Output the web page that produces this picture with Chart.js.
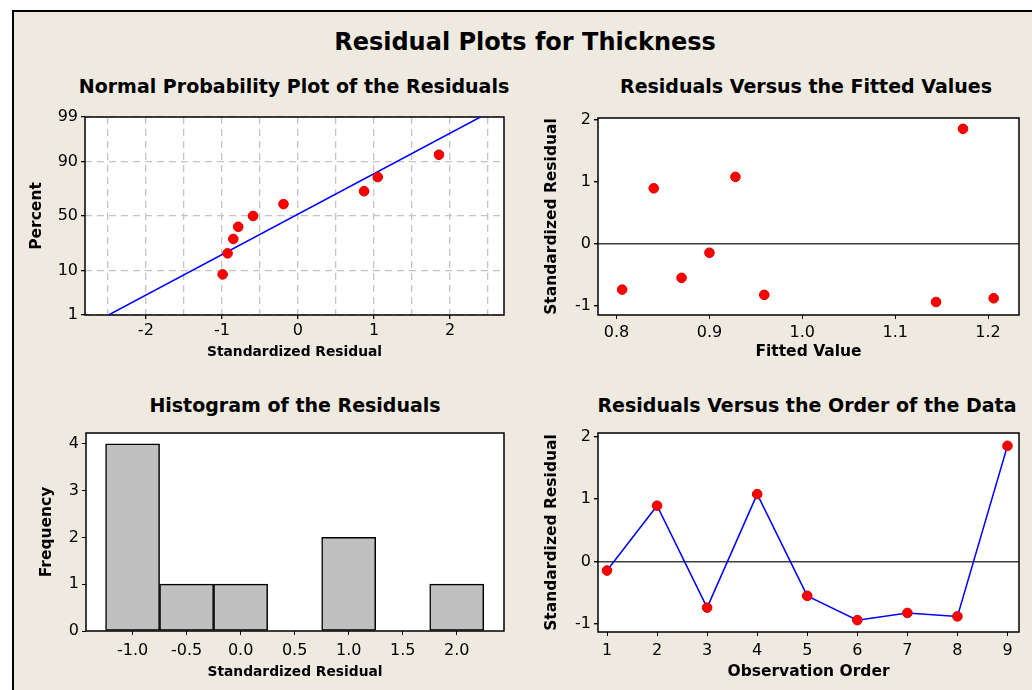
<!DOCTYPE html>
<html>
<head>
<meta charset="utf-8">
<title>Residual Plots for Thickness</title>
<script src="https://cdn.jsdelivr.net/npm/chart.js@4/dist/chart.umd.min.js"></script>
<style>
  body { margin:0; width:1032px; height:690px; overflow:hidden; position:relative; background:#fff; font-family:'DejaVu Sans', sans-serif; }
  #frame { position:absolute; left:12px; top:10px; width:1100px; height:800px; background:#eeeae0; border:2px solid #000; box-sizing:border-box; }
  .t { position:absolute; font-weight:bold; color:#000; white-space:nowrap; transform:translateX(-50%); }
  #main { left:525px; top:26px; font-size:24px; line-height:32px; }
  .sub { font-size:19px; line-height:24px; }
  canvas { position:absolute; }
</style>
</head>
<body>
<div id="frame"></div>
<div class="t" id="main">Residual Plots for Thickness</div>
<div class="t sub" style="left:294px;top:74px">Normal Probability Plot of the Residuals</div>
<div class="t sub" style="left:806px;top:74px">Residuals Versus the Fitted Values</div>
<div class="t sub" style="left:295px;top:393px">Histogram of the Residuals</div>
<div class="t sub" style="left:807px;top:393px">Residuals Versus the Order of the Data</div>

<canvas id="probChart" width="489" height="265" style="left:25px;top:100px"></canvas>
<canvas id="fitChart" width="492" height="265" style="left:540px;top:100px"></canvas>
<canvas id="histChart" width="479" height="270" style="left:35px;top:415px"></canvas>
<canvas id="orderChart" width="492" height="270" style="left:540px;top:415px"></canvas>

<script>
// normal probability plot (sorted residuals vs percent)
const probResid = [-0.99, -0.925, -0.85, -0.785, -0.59, -0.19, 0.87, 1.05, 1.855];
const probPct = [8.5, 19, 29.5, 40, 50, 61, 72, 82, 92.5];
const probTicks = [1, 10, 50, 90, 99];
const fitLineX = [-2.49, 2.40];
const fitLinePct = [1, 99];

// residuals by observation
const obsOrder = [1, 2, 3, 4, 5, 6, 7, 8, 9];
const residuals = [-0.145, 0.895, -0.74, 1.08, -0.55, -0.94, -0.825, -0.88, 1.855];
const fittedVals = [0.900, 0.840, 0.806, 0.928, 0.870, 1.144, 0.959, 1.206, 1.173];

// histogram
const binMids = [-1.0, -0.5, 0.0, 0.5, 1.0, 1.5, 2.0];
const binCounts = [4, 1, 1, 0, 2, 0, 1];

Chart.defaults.font.family = "'DejaVu Sans', sans-serif";
Chart.defaults.font.size = 16;
Chart.defaults.color = '#000';
Chart.defaults.animation = false;
Chart.defaults.plugins.legend.display = false;
Chart.defaults.plugins.tooltip.enabled = false;

// inverse normal cdf (Acklam), used for the probability axis
function probit(p) {
  const a = [-39.69683028665376, 220.9460984245205, -275.9285104469687, 138.3577518672690, -30.66479806614716, 2.506628277459239];
  const b = [-54.47609879822406, 161.5858368580409, -155.6989798598866, 66.80131188771972, -13.28068155288572];
  const c = [-0.007784894002430293, -0.3223964580411365, -2.400758277161838, -2.549732539343734, 4.374664141464968, 2.938163982698783];
  const d = [0.007784695709041462, 0.3224671290700398, 2.445134137142996, 3.754408661907416];
  const lo = 0.02425, hi = 1 - lo;
  let q, r;
  if (p < lo) {
    q = Math.sqrt(-2 * Math.log(p));
    return (((((c[0]*q+c[1])*q+c[2])*q+c[3])*q+c[4])*q+c[5]) / ((((d[0]*q+d[1])*q+d[2])*q+d[3])*q+1);
  }
  if (p > hi) {
    q = Math.sqrt(-2 * Math.log(1 - p));
    return -(((((c[0]*q+c[1])*q+c[2])*q+c[3])*q+c[4])*q+c[5]) / ((((d[0]*q+d[1])*q+d[2])*q+d[3])*q+1);
  }
  q = p - 0.5; r = q * q;
  return (((((a[0]*r+a[1])*r+a[2])*r+a[3])*r+a[4])*r+a[5])*q / (((((b[0]*r+b[1])*r+b[2])*r+b[3])*r+b[4])*r+1);
}

// white plot area + black box round it
const boxPlugin = {
  id: 'box',
  beforeDraw(c) {
    const a = c.chartArea;
    c.ctx.save();
    c.ctx.fillStyle = '#fff';
    c.ctx.fillRect(a.left, a.top, a.width, a.height);
    c.ctx.restore();
  },
  beforeDatasetsDraw(c) {
    const a = c.chartArea, ctx = c.ctx;
    ctx.save();
    ctx.strokeStyle = '#000';
    ctx.lineWidth = 1.5;
    ctx.strokeRect(a.left, a.top, a.width, a.height);
    ctx.restore();
  }
};

const isInt = v => Math.abs(v - Math.round(v)) < 1e-9;
const xTitle = (text, size) => ({ display: true, text, font: { size, weight: 'bold' }, padding: { top: 4, bottom: 4 } });
const yTitle = text => ({ display: true, text, font: { size: 15.5, weight: 'bold' }, padding: { top: 2.5, bottom: 4 } });
const pad = (top, right) => ({ padding: { left: 0, top, right, bottom: 0 } });
const dots = { pointRadius: 4.8, pointBackgroundColor: '#ff0000', pointBorderColor: '#d80000', pointBorderWidth: 1 };
const zeroLine = ctx => ctx.tick.value === 0 ? '#404040' : 'rgba(0,0,0,0)';

// 1. normal probability plot
new Chart(document.getElementById('probChart'), {
  type: 'scatter',
  data: {
    datasets: [
      { data: probResid.map((x, i) => ({ x, y: probit(probPct[i] / 100) })), ...dots },
      { data: fitLineX.map((x, i) => ({ x, y: probit(fitLinePct[i] / 100) })), showLine: true,
        pointRadius: 0, borderColor: '#0000ff', borderWidth: 1.5 }
    ]
  },
  options: {
    responsive: false,
    layout: pad(17, 10),
    scales: {
      x: {
        type: 'linear', min: -2.8, max: 2.71,
        ticks: { stepSize: 0.5, includeBounds: false, autoSkip: false, maxRotation: 0, padding: 2,
                 callback: v => isInt(v) ? String(Math.round(v)) : '' },
        grid: { color: '#c4c4c4', lineWidth: 1.3, tickLength: 4,
                tickColor: ctx => isInt(ctx.tick.value) ? '#000' : 'rgba(0,0,0,0)' },
        border: { display: false, dash: [7, 5] },
        title: xTitle('Standardized Residual', 13.8),
        afterFit: s => { s.height = 50; }
      },
      y: {
        type: 'linear', min: probit(0.01), max: probit(0.99),
        afterBuildTicks: s => { s.ticks = probTicks.map(p => ({ value: probit(p / 100) })); },
        ticks: { padding: 3, callback: (v, i) => String(probTicks[i]) },
        grid: { color: '#c4c4c4', lineWidth: 1.3, tickLength: 4, tickColor: '#000' },
        border: { display: false, dash: [7, 5] },
        title: yTitle('Percent'),
        afterFit: s => { s.width = 60; }
      }
    }
  },
  plugins: [boxPlugin]
});

// 2. residuals versus fitted values
new Chart(document.getElementById('fitChart'), {
  type: 'scatter',
  data: { datasets: [{ data: fittedVals.map((x, i) => ({ x, y: residuals[i] })), ...dots }] },
  options: {
    responsive: false,
    layout: pad(18, 13),
    scales: {
      x: {
        type: 'linear', min: 0.78, max: 1.2333,
        ticks: { stepSize: 0.1, includeBounds: false, maxRotation: 0, padding: 4, callback: v => v.toFixed(1) },
        grid: { drawOnChartArea: false, tickLength: 4, tickColor: '#000' },
        border: { display: false },
        title: xTitle('Fitted Value', 15.5),
        afterFit: s => { s.height = 50; }
      },
      y: {
        type: 'linear', min: -1.15, max: 2.03,
        ticks: { stepSize: 1, includeBounds: false, padding: 3 },
        grid: { color: zeroLine, lineWidth: 1.4, tickLength: 4, tickColor: '#000' },
        border: { display: false },
        title: yTitle('Standardized Residual'),
        afterFit: s => { s.width = 58; }
      }
    }
  },
  plugins: [boxPlugin]
});

// 3. histogram of the residuals
new Chart(document.getElementById('histChart'), {
  type: 'bar',
  data: {
    datasets: [{
      data: binMids.map((x, i) => ({ x, y: binCounts[i] })),
      backgroundColor: '#c0c0c0', borderColor: '#000', borderWidth: 1.5, borderSkipped: false,
      barPercentage: 1, categoryPercentage: 1
    }]
  },
  options: {
    responsive: false,
    layout: pad(18, 10),
    scales: {
      x: {
        type: 'linear', min: -1.431, max: 2.4375, offset: false,
        ticks: { stepSize: 0.5, includeBounds: false, maxRotation: 0, padding: 6, callback: v => v.toFixed(1) },
        grid: { offset: false, drawOnChartArea: false, tickLength: 4, tickColor: '#000' },
        border: { display: false },
        title: xTitle('Standardized Residual', 13.8),
        afterFit: s => { s.height = 54; }
      },
      y: {
        type: 'linear', min: 0, max: 4.23,
        ticks: { stepSize: 1, includeBounds: false, padding: 3 },
        grid: { drawOnChartArea: false, tickLength: 4, tickColor: '#000' },
        border: { display: false },
        title: yTitle('Frequency'),
        afterFit: s => { s.width = 51; }
      }
    }
  },
  plugins: [boxPlugin]
});

// 4. residuals versus observation order
new Chart(document.getElementById('orderChart'), {
  type: 'scatter',
  data: {
    datasets: [{
      data: obsOrder.map((x, i) => ({ x, y: residuals[i] })),
      showLine: true, borderColor: '#0000ff', borderWidth: 1.5, ...dots
    }]
  },
  options: {
    responsive: false,
    layout: pad(18, 13),
    scales: {
      x: {
        type: 'linear', min: 0.82, max: 9.23,
        ticks: { stepSize: 1, includeBounds: false, maxRotation: 0, padding: 5 },
        grid: { drawOnChartArea: false, tickLength: 4, tickColor: '#000' },
        border: { display: false },
        title: xTitle('Observation Order', 15.5),
        afterFit: s => { s.height = 53; }
      },
      y: {
        type: 'linear', min: -1.13, max: 2.06,
        ticks: { stepSize: 1, includeBounds: false, padding: 3 },
        grid: { color: zeroLine, lineWidth: 1.4, tickLength: 4, tickColor: '#000' },
        border: { display: false },
        title: yTitle('Standardized Residual'),
        afterFit: s => { s.width = 58; }
      }
    }
  },
  plugins: [boxPlugin]
});
</script>
</body>
</html>
